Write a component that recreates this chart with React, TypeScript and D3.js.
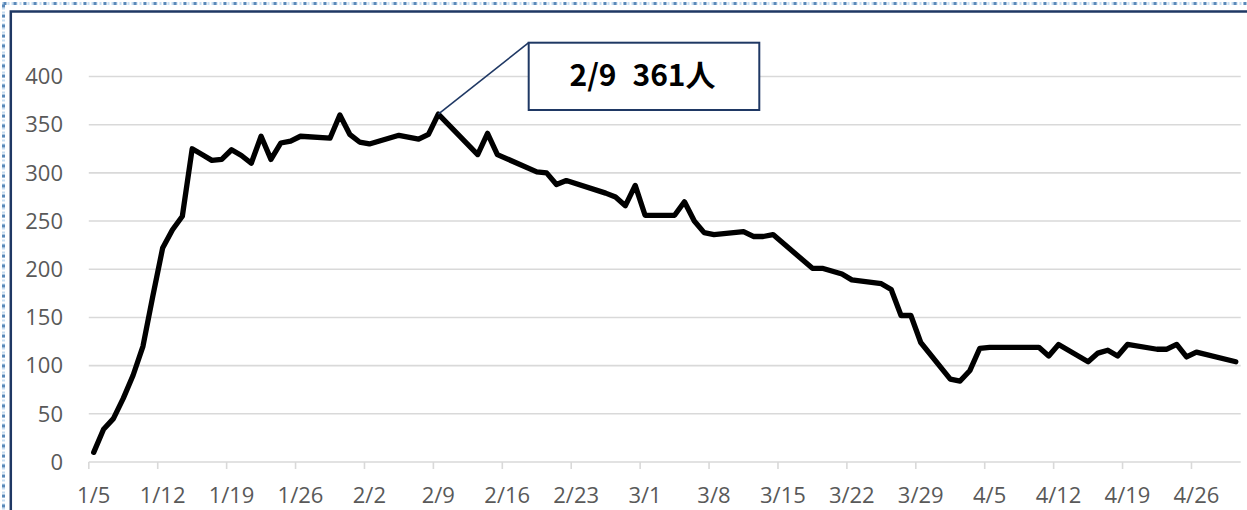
import * as d3 from "d3";

// dates that have a reading (weekends / holidays are skipped later on)
const dates = [
  "1/5", "1/6", "1/7", "1/8", "1/9", "1/10", "1/11", "1/12", "1/13", "1/14",
  "1/15", "1/16", "1/17", "1/18", "1/19", "1/20", "1/21", "1/22", "1/23", "1/24",
  "1/25", "1/26", "1/29", "1/30", "1/31", "2/1", "2/2", "2/5", "2/7", "2/8",
  "2/9", "2/13", "2/14", "2/15", "2/19", "2/20", "2/21", "2/22", "2/26", "2/27",
  "2/28", "2/29", "3/1", "3/4", "3/5", "3/6", "3/7", "3/8", "3/11", "3/12",
  "3/13", "3/14", "3/18", "3/19", "3/21", "3/22", "3/25", "3/26", "3/27", "3/28",
  "3/29", "4/1", "4/2", "4/3", "4/4", "4/5", "4/10", "4/11", "4/12", "4/15",
  "4/16", "4/17", "4/18", "4/19", "4/22", "4/23", "4/24", "4/25", "4/26", "4/30",
];

const counts = [
  10, 34, 45, 66, 90, 120, 172, 222, 241, 255,
  325, 319, 313, 314, 324, 318, 310, 338, 314, 331,
  333, 338, 336, 360, 340, 332, 330, 339, 335, 340,
  361, 319, 341, 319, 301, 300, 288, 292, 279, 275,
  266, 287, 256, 256, 270, 250, 238, 236, 239, 234,
  234, 236, 201, 201, 195, 189, 185, 179, 152, 152,
  124, 86, 84, 95, 118, 119, 119, 110, 122, 104,
  113, 116, 110, 122, 117, 117, 122, 109, 114, 104,
];

const tickLabels = [
  "1/5", "1/12", "1/19", "1/26", "2/2", "2/9", "2/16", "2/23", "3/1",
  "3/8", "3/15", "3/22", "3/29", "4/5", "4/12", "4/19", "4/26",
];

const yTicks = [0, 50, 100, 150, 200, 250, 300, 350, 400];

const calloutDate = "2/9";
const calloutValue = 361;

const YEAR = 2024;
const parse = (s: string) => {
  const [m, d] = s.split("/").map(Number);
  return new Date(Date.UTC(YEAR, m - 1, d));
};
// points sit in the middle of their day (Excel date axis, between tick marks)
const mid = (s: string) => d3.utcHour.offset(parse(s), 12);

const W = 1247;
const H = 510;

const App = () => {
  const x = d3
    .scaleUtc()
    .domain([parse("1/5"), parse("5/1")])
    .range([88.8, 1240.7]);
  const y = d3.scaleLinear().domain([0, 400]).range([462, 76.5]);

  const data = dates.map((d, i) => ({ date: mid(d), v: counts[i] }));
  const line = d3
    .line<{ date: Date; v: number }>()
    .x((d) => x(d.date))
    .y((d) => y(d.v));

  const px = x(mid(calloutDate));
  const py = y(calloutValue);
  const box = { x: 528.7, y: 42.7, w: 230.6, h: 67.3 };

  const tickFont = "'Open Sans', 'DejaVu Sans', sans-serif";

  return (
    <svg
      width={W}
      height={H}
      style={{ position: "absolute", left: 0, top: 0, background: "#fff" }}
    >
      {/* selection-style dotted frame */}
      <rect x={3.5} y={3.5} width={W + 10} height={H + 10} fill="none"
        stroke="#c5dcf0" strokeWidth={3} strokeDasharray="2 2" />
      <rect x={3.5} y={3.5} width={W + 10} height={H + 10} fill="none"
        stroke="#5b89b9" strokeWidth={3} strokeDasharray="3 7" />
      {/* chart area border */}
      <rect x={10.8} y={11.5} width={W + 20} height={H + 20} fill="#fff"
        stroke="#1f3864" strokeWidth={2.5} />

      {/* gridlines */}
      {yTicks.slice(1).map((t) => (
        <line key={t} x1={88.8} x2={1240.7} y1={y(t)} y2={y(t)}
          stroke="#d9d9d9" strokeWidth={1.6} />
      ))}
      {/* y labels */}
      {yTicks.map((t) => (
        <text key={t} x={63} y={y(t) + 7.8} textAnchor="end"
          fontFamily={tickFont} fontSize={22} fill="#595959">
          {t}
        </text>
      ))}

      {/* x axis */}
      <line x1={88.8} x2={1240.7} y1={y(0)} y2={y(0)} stroke="#d9d9d9" strokeWidth={1.6} />
      {tickLabels.map((t) => (
        <g key={t}>
          <line x1={x(parse(t))} x2={x(parse(t))} y1={y(0)} y2={y(0) + 7}
            stroke="#d9d9d9" strokeWidth={1.6} />
          <text x={x(mid(t))} y={503} textAnchor="middle"
            fontFamily={tickFont} fontSize={22} fill="#595959">
            {t}
          </text>
        </g>
      ))}

      {/* series */}
      <path d={line(data) ?? undefined} fill="none" stroke="#000"
        strokeWidth={5.3} strokeLinejoin="round" strokeLinecap="round" />

      {/* callout */}
      <line x1={px} y1={py} x2={box.x} y2={box.y} stroke="#1f3864" strokeWidth={1.6} />
      <rect x={box.x} y={box.y} width={box.w} height={box.h} fill="#fff"
        stroke="#1f3864" strokeWidth={2} />
      <text x={box.x + box.w / 2 - 1.5} y={85.5} textAnchor="middle"
        fontFamily="'Noto Sans CJK JP', sans-serif" fontWeight="bold"
        fontSize={30} fill="#000">
        <tspan>{calloutDate}</tspan>
        <tspan dx={16}>{`${calloutValue}人`}</tspan>
      </text>
    </svg>
  );
};

export default App;
